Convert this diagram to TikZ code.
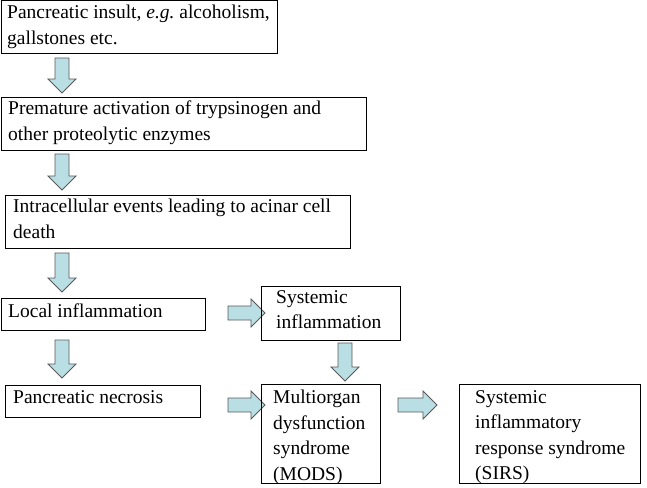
\documentclass[tikz,border=0pt]{standalone}
\usepackage{fontspec}
\setmainfont{LiberationSerif-Regular.ttf}[ItalicFont=LiberationSerif-Italic.ttf,BoldFont=LiberationSerif-Bold.ttf]
\definecolor{arrfill}{RGB}{185,222,228}
\begin{document}
\begin{tikzpicture}[x=1pt,y=-1pt,
  box/.style={draw=black,line width=1pt,inner sep=0pt},
  txt/.style={anchor=north west,align=left,font=\fontsize{19.5}{25.5}\selectfont,inner sep=0pt},
  ba/.style={fill=arrfill,draw=black!65,line width=0.8pt,line join=miter}]
\useasboundingbox (0,0) rectangle (647,487);
\newcommand\darr[3]{% x, ytop, ybottom
  \path[ba] (#1-7,#2) -- (#1+7,#2) -- (#1+7,#3-14) -- (#1+14,#3-14) -- (#1,#3) -- (#1-14,#3-14) -- (#1-7,#3-14) -- cycle;}
\newcommand\rarr[3]{% y, xleft, xright
  \path[ba] (#2,#1-7) -- (#2,#1+7) -- (#3-14,#1+7) -- (#3-14,#1+14) -- (#3,#1) -- (#3-14,#1-14) -- (#3-14,#1-7) -- cycle;}
\draw[box] (1,1) rectangle (277,54);
\node[txt] (t1) at (7,5) {Pancreatic insult, \textit{e.g.}\ alcoholism,\\gallstones etc.};
\darr{62}{58}{93}
\draw[box] (1,97) rectangle (366,150);
\node[txt] (t2) at (8,101) {Premature activation of trypsinogen and\\other proteolytic enzymes};
\darr{62}{154}{190}
\draw[box] (5,195) rectangle (350,248);
\node[txt] (t3) at (13,199) {Intracellular events leading to acinar cell\\death};
\darr{62}{253}{292}
\draw[box] (1,298) rectangle (205,330);
\node[txt] (t4) at (8,304) {Local inflammation};
\rarr{313}{228}{265}
\draw[box] (261,286) rectangle (400,340);
\node[txt] (t5) at (276,290) {Systemic\\inflammation};
\darr{345}{343}{381}
\darr{62}{340}{378}
\draw[box] (5,385) rectangle (200,417);
\node[txt] (t6) at (13,390) {Pancreatic necrosis};
\rarr{405}{228}{265}
\draw[box] (261,384) rectangle (380,483);
\node[txt] (t7) at (273,390) {Multiorgan\\dysfunction\\syndrome\\(MODS)};
\rarr{405}{398}{437}
\draw[box] (459,384) rectangle (640,483);
\node[txt] (t8) at (475,390) {Systemic\\inflammatory\\response syndrome\\(SIRS)};
\end{tikzpicture}
\end{document}
